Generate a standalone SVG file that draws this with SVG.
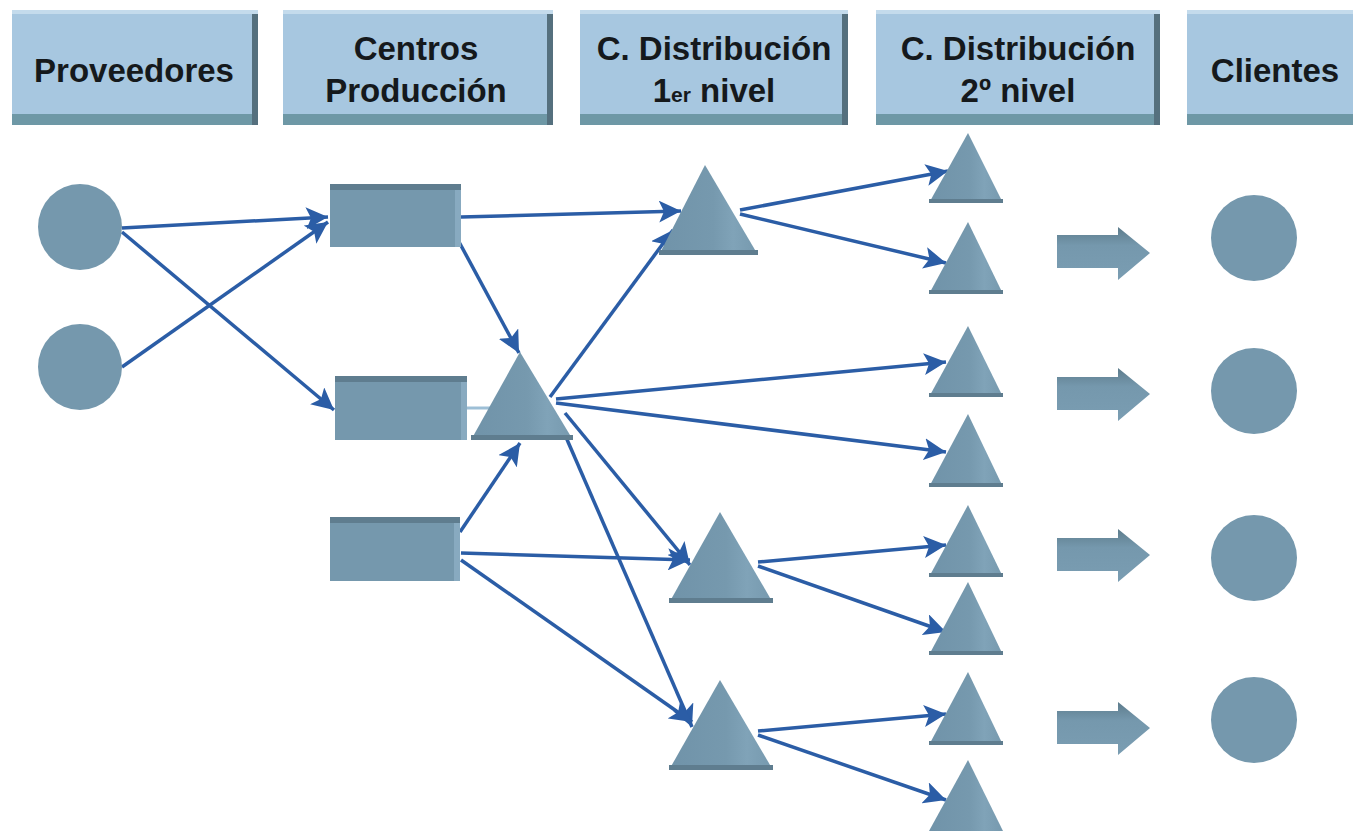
<svg xmlns="http://www.w3.org/2000/svg" width="1353" height="831" viewBox="0 0 1353 831">
<defs>
<style>
.hdr{fill:#a7c7e0}
.hdrb{fill:#6e98a6}
.hdrr{fill:#55707e}
.hdrl{fill:#c4dbec}
.t{font-family:"Liberation Sans",Arial,sans-serif;font-weight:bold;font-size:33px;fill:#15191c;text-anchor:middle}
.sh{fill:#7598ad}
.shd{fill:#5f7d8f}
.shl{fill:#88aac0}
.c{stroke:#2b5da6;stroke-width:3.5;fill:none;marker-end:url(#ah)}
</style>
<marker id="ah" markerUnits="userSpaceOnUse" markerWidth="24" markerHeight="22" refX="22" refY="11" orient="auto">
<path d="M0,0 L22,11 L0,22 L5,11 z" fill="#2b5da6"/>
</marker>
<linearGradient id="tri" x1="0" y1="0" x2="1" y2="0">
<stop offset="0" stop-color="#7093a9"/>
<stop offset="0.55" stop-color="#7699ae"/>
<stop offset="0.75" stop-color="#80a3b8"/>
<stop offset="1" stop-color="#7699ae"/>
</linearGradient>
<linearGradient id="fat" x1="0" y1="0" x2="0" y2="1">
<stop offset="0" stop-color="#5d7c8c"/>
<stop offset="0.35" stop-color="#7598ad"/>
<stop offset="1" stop-color="#7a9db2"/>
</linearGradient>
</defs>
<rect width="1353" height="831" fill="#ffffff"/>

<!-- Header row -->
<g id="hdr-proveedores">
<rect class="hdr" x="12" y="10" width="246" height="115"/>
<rect class="hdrl" x="12" y="10" width="246" height="4"/>
<rect class="hdrb" x="12" y="114" width="246" height="11"/>
<rect class="hdrr" x="252" y="14" width="6" height="111"/>
<text class="t" x="134" y="82">Proveedores</text>
</g>
<g id="hdr-centros">
<rect class="hdr" x="283" y="10" width="270" height="115"/>
<rect class="hdrl" x="283" y="10" width="270" height="4"/>
<rect class="hdrb" x="283" y="114" width="270" height="11"/>
<rect class="hdrr" x="547" y="14" width="6" height="111"/>
<text class="t" x="416" y="60">Centros</text>
<text class="t" x="416" y="102">Producción</text>
</g>
<g id="hdr-cd1">
<rect class="hdr" x="580" y="10" width="268" height="115"/>
<rect class="hdrl" x="580" y="10" width="268" height="4"/>
<rect class="hdrb" x="580" y="114" width="268" height="11"/>
<rect class="hdrr" x="842" y="14" width="6" height="111"/>
<text class="t" x="714" y="60">C. Distribución</text>
<text class="t" x="714" y="102">1<tspan font-size="21">er</tspan> nivel</text>
</g>
<g id="hdr-cd2">
<rect class="hdr" x="876" y="10" width="284" height="115"/>
<rect class="hdrl" x="876" y="10" width="284" height="4"/>
<rect class="hdrb" x="876" y="114" width="284" height="11"/>
<rect class="hdrr" x="1154" y="14" width="6" height="111"/>
<text class="t" x="1018" y="60">C. Distribución</text>
<text class="t" x="1018" y="102">2º nivel</text>
</g>
<g id="hdr-clientes">
<rect class="hdr" x="1187" y="10" width="170" height="115"/>
<rect class="hdrl" x="1187" y="10" width="170" height="4"/>
<rect class="hdrb" x="1187" y="114" width="170" height="11"/>
<text class="t" x="1275" y="82">Clientes</text>
</g>

<!-- Connectors -->
<g id="connectors">
<line class="c" x1="122" y1="228" x2="328" y2="217"/>
<line class="c" x1="122" y1="232" x2="334" y2="410"/>
<line class="c" x1="122" y1="367" x2="328" y2="222"/>
<line class="c" x1="461" y1="217" x2="681" y2="211"/>
<line class="c" x1="458" y1="240" x2="519" y2="353"/>
<line class="c" x1="460" y1="532" x2="520" y2="443"/>
<line x1="467" y1="408" x2="490" y2="408" stroke="#9dbfd6" stroke-width="3"/>
<line class="c" x1="550" y1="397" x2="673" y2="230"/>
<line class="c" x1="556" y1="399" x2="946" y2="362"/>
<line class="c" x1="556" y1="403" x2="946" y2="452"/>
<line class="c" x1="565" y1="413" x2="690" y2="565"/>
<line class="c" x1="562" y1="428" x2="692" y2="727"/>
<line class="c" x1="461" y1="553" x2="690" y2="560"/>
<line class="c" x1="461" y1="560" x2="692" y2="722"/>
<line class="c" x1="740" y1="210" x2="948" y2="171"/>
<line class="c" x1="740" y1="214" x2="946" y2="263"/>
<line class="c" x1="758" y1="562" x2="946" y2="545"/>
<line class="c" x1="758" y1="566" x2="946" y2="632"/>
<line class="c" x1="758" y1="731" x2="946" y2="714"/>
<line class="c" x1="758" y1="735" x2="946" y2="800"/>
</g>

<!-- Proveedores -->
<g id="prov-1"><ellipse class="sh" cx="80" cy="227" rx="42" ry="43"/></g>
<g id="prov-2"><ellipse class="sh" cx="80" cy="367" rx="42" ry="43"/></g>

<!-- Centros de produccion -->
<g id="cp-1">
<rect class="sh" x="330" y="184" width="131" height="63"/>
<rect class="shd" x="330" y="184" width="131" height="6"/>
<rect class="shl" x="455" y="190" width="6" height="57"/>
</g>
<g id="cp-2">
<rect class="sh" x="335" y="376" width="132" height="64"/>
<rect class="shd" x="335" y="376" width="132" height="6"/>
<rect class="shl" x="461" y="382" width="6" height="58"/>
</g>
<g id="cp-3">
<rect class="sh" x="330" y="517" width="130" height="64"/>
<rect class="shd" x="330" y="517" width="130" height="6"/>
<rect class="shl" x="454" y="523" width="6" height="58"/>
</g>

<!-- Distribucion 1er nivel -->
<g id="cd1-1"><polygon fill="url(#tri)" points="705,165 758,255 659,255"/><rect class="shd" x="659" y="250" width="99" height="5"/></g>
<g id="cd1-2"><polygon fill="url(#tri)" points="520,352 573,440 471,440"/><rect class="shd" x="471" y="435" width="102" height="5"/></g>
<g id="cd1-3"><polygon fill="url(#tri)" points="720,512 773,603 669,603"/><rect class="shd" x="669" y="598" width="104" height="5"/></g>
<g id="cd1-4"><polygon fill="url(#tri)" points="720,680 773,770 669,770"/><rect class="shd" x="669" y="765" width="104" height="5"/></g>

<!-- Distribucion 2o nivel -->
<g id="cd2-1"><polygon fill="url(#tri)" points="968,133 1003,203 929,203"/><rect class="shd" x="929" y="199" width="74" height="4"/></g>
<g id="cd2-2"><polygon fill="url(#tri)" points="968,222 1003,294 929,294"/><rect class="shd" x="929" y="290" width="74" height="4"/></g>
<g id="cd2-3"><polygon fill="url(#tri)" points="968,326 1003,397 929,397"/><rect class="shd" x="929" y="393" width="74" height="4"/></g>
<g id="cd2-4"><polygon fill="url(#tri)" points="968,414 1003,487 929,487"/><rect class="shd" x="929" y="483" width="74" height="4"/></g>
<g id="cd2-5"><polygon fill="url(#tri)" points="968,505 1003,577 929,577"/><rect class="shd" x="929" y="573" width="74" height="4"/></g>
<g id="cd2-6"><polygon fill="url(#tri)" points="968,582 1003,655 929,655"/><rect class="shd" x="929" y="651" width="74" height="4"/></g>
<g id="cd2-7"><polygon fill="url(#tri)" points="968,672 1003,745 929,745"/><rect class="shd" x="929" y="741" width="74" height="4"/></g>
<g id="cd2-8"><polygon fill="url(#tri)" points="968,760 1003,831 929,831"/></g>

<!-- Flow arrows to clients -->
<g id="flow-1"><polygon fill="url(#fat)" points="1057,235 1118,235 1118,227 1150,253 1118,280 1118,268 1057,268"/></g>
<g id="flow-2"><polygon fill="url(#fat)" points="1057,377 1118,377 1118,368 1150,394 1118,421 1118,410 1057,410"/></g>
<g id="flow-3"><polygon fill="url(#fat)" points="1057,538 1118,538 1118,529 1150,555 1118,582 1118,571 1057,571"/></g>
<g id="flow-4"><polygon fill="url(#fat)" points="1057,711 1118,711 1118,702 1150,728 1118,755 1118,744 1057,744"/></g>

<!-- Clientes -->
<g id="cli-1"><ellipse class="sh" cx="1254" cy="238" rx="43" ry="43"/></g>
<g id="cli-2"><ellipse class="sh" cx="1254" cy="391" rx="43" ry="43"/></g>
<g id="cli-3"><ellipse class="sh" cx="1254" cy="558" rx="43" ry="43"/></g>
<g id="cli-4"><ellipse class="sh" cx="1254" cy="720" rx="43" ry="43"/></g>
</svg>
